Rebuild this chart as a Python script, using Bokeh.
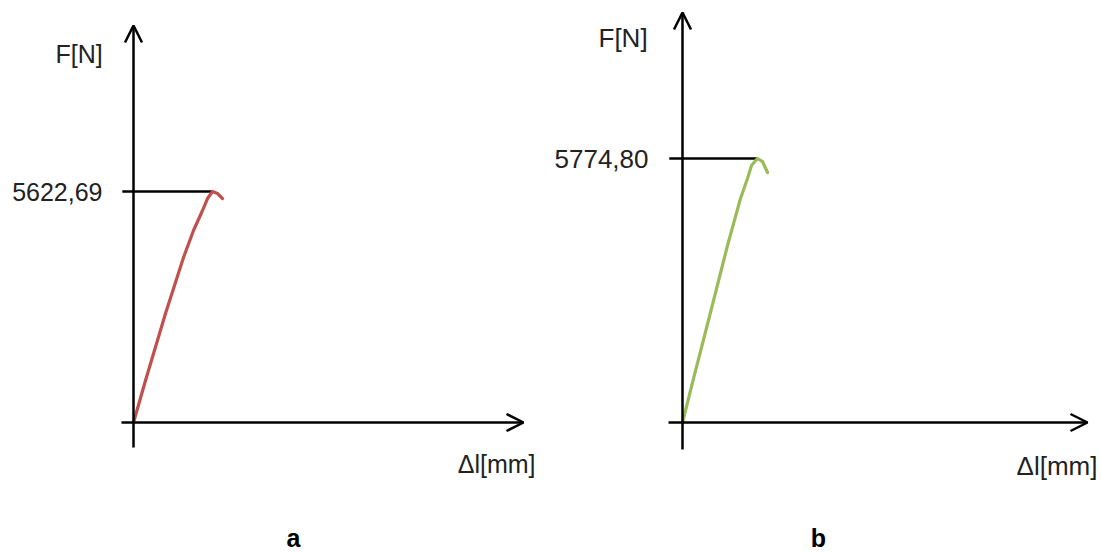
from bokeh.plotting import figure
from bokeh.layouts import row
from bokeh.models import Arrow, OpenHead, ColumnDataSource, Range1d
from bokeh.core.properties import value
from bokeh.embed import file_html
from bokeh.resources import INLINE

# ---------------- data ----------------
dl_a = [0.0, 0.30, 0.80, 1.25, 1.50, 1.725, 1.85, 1.975, 2.10, 2.225]
F_a = [0.0, 1022, 2653, 4016, 4673, 5160, 5452, 5622.69, 5574, 5452]
dl_b = [0.0, 0.275, 0.70, 1.125, 1.45, 1.625, 1.725, 1.875, 2.0, 2.125]
F_b = [0.0, 962, 2406, 3872, 4900, 5337, 5622, 5774.80, 5709, 5469]
peak_labels = ["5622,69", "5774,80"]
panel_labels = ["a", "b"]
x_label = "\u0394l[mm]"
y_label = "F[N]"
colors = ["#C0504D", "#9BBB59"]

FONT = value("Liberation Sans")
H = 553
PX_PER_MM = 40.0


def make_panel(dl, F, peak_label, panel_label, color, W, ox, oy, peak_px,
               fs, yl_dx, yl_dy, xl_dx, xl_dy, pl_dx, vlab_dx,
               vtop, vbot, hleft, hright):
    peak = max(F)
    ipk = F.index(peak)
    npp = peak / peak_px  # newtons per pixel
    p = figure(width=W, height=H, output_backend="svg", toolbar_location=None,
               x_axis_location=None, y_axis_location=None, min_border=0,
               x_range=Range1d(-ox / PX_PER_MM, (W - ox) / PX_PER_MM),
               y_range=Range1d(-(H - oy) * npp, oy * npp))
    p.grid.visible = False
    p.outline_line_color = None
    p.background_fill_color = "white"
    p.border_fill_color = "white"

    # axes as arrows
    p.add_layout(Arrow(end=OpenHead(size=17, line_width=2.5, line_color="black"),
                       x_start=0, y_start=-vbot * npp, x_end=0, y_end=vtop * npp,
                       line_width=2.5, line_color="black"))
    p.add_layout(Arrow(end=OpenHead(size=17, line_width=2.5, line_color="black"),
                       x_start=hleft / PX_PER_MM, y_start=0,
                       x_end=hright / PX_PER_MM, y_end=0,
                       line_width=2.5, line_color="black"))

    # peak reference line
    p.segment(x0=[hleft / PX_PER_MM + 0.02], y0=[peak], x1=[dl[ipk]], y1=[peak],
              line_color="black", line_width=2.5)

    # curve
    p.line(dl, F, line_color=color, line_width=3.2, line_join="round", line_cap="round")

    # texts
    src = ColumnDataSource(dict(x=[0.0], y=[peak], t=[peak_label]))
    p.text(x="x", y="y", text="t", source=src, text_font=FONT, text_font_size=f"{fs}px",
           text_align="right", text_baseline="middle", text_color="#222222",
           x_offset=vlab_dx)
    p.text(x=[yl_dx / PX_PER_MM], y=[yl_dy * npp], text=[y_label], text_font=FONT,
           text_font_size=f"{fs}px", text_align="left", text_baseline="middle",
           text_color="#222222")
    p.text(x=[xl_dx / PX_PER_MM], y=[-xl_dy * npp], text=[x_label], text_font=FONT,
           text_font_size=f"{fs}px", text_align="right", text_baseline="middle",
           text_color="#222222")
    p.text(x=[pl_dx / PX_PER_MM], y=[-115 * npp], text=[panel_label], text_font=FONT,
           text_font_size="25px", text_font_style="bold", text_align="center",
           text_baseline="middle", text_color="black")
    return p


pa = make_panel(dl_a, F_a, peak_labels[0], panel_labels[0], colors[0],
                W=551, ox=133, oy=422, peak_px=231, fs=25,
                yl_dx=-78, yl_dy=369, xl_dx=402, xl_dy=41, pl_dx=160, vlab_dx=-31,
                vtop=397, vbot=25, hleft=-12, hright=390)
pb = make_panel(dl_b, F_b, peak_labels[1], panel_labels[1], colors[1],
                W=551, ox=131, oy=422, peak_px=264, fs=26,
                yl_dx=-84, yl_dy=385, xl_dx=415, xl_dy=43, pl_dx=136, vlab_dx=-34,
                vtop=410, vbot=27, hleft=-14, hright=405)

layout = row(pa, pb)
open("out.html", "w").write(file_html(layout, INLINE))
